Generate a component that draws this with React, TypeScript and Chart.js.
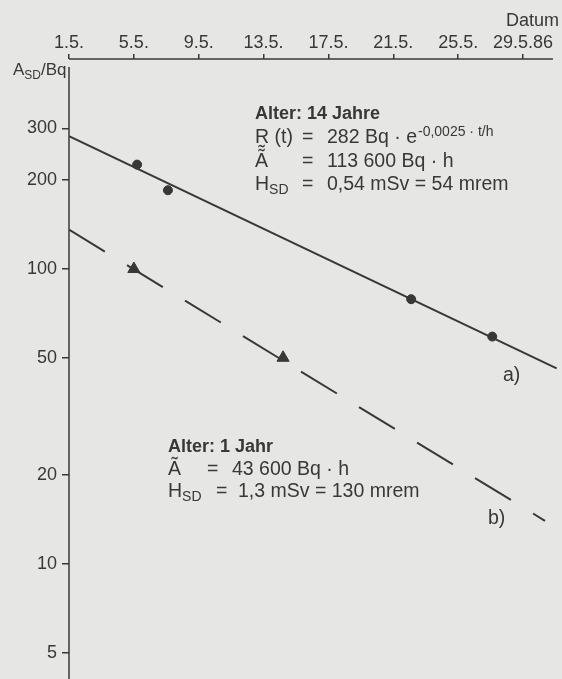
import React, { useEffect, useRef } from 'react';
import { Chart, registerables } from 'chart.js';

Chart.register(...registerables);

// ---- Data (days after 1.5.1986, activity A_SD in Bq) ----
const tickDays = [0, 4, 8, 12, 16, 20, 24, 28];
const tickLabels = ['1.5.', '5.5.', '9.5.', '13.5.', '17.5.', '21.5.', '25.5.', '29.5.86'];
const yTicks = [5, 10, 20, 50, 100, 200, 300];

// a) Alter: 14 Jahre
const fitADays = [0, 30.07];
const fitAValues = [282, 46];
const measADays = [4.2, 6.1, 21.1, 26.1];
const measAValues = [226, 185, 79, 59];

// b) Alter: 1 Jahr
const fitBDays = [0, 29.35];
const fitBValues = [136, 14];
const measBDays = [4.0, 13.2];
const measBValues = [100, 50];

const INK = '#383838';
const BG = '#e6e6e4';
const FONT = '"Liberation Sans", Arial, Helvetica, sans-serif';
const REG = 19.5;

const pts = (xs: number[], ys: number[]) => xs.map((x, i) => ({ x, y: ys[i] }));

function drawSub(ctx: CanvasRenderingContext2D, base: string, sub: string, x: number, y: number, size: number, subSize: number) {
  ctx.font = `${size}px ${FONT}`;
  ctx.fillText(base, x, y);
  const w = ctx.measureText(base).width;
  ctx.font = `${subSize}px ${FONT}`;
  ctx.fillText(sub, x + w, y + 4);
  return x + w + ctx.measureText(sub).width;
}

const decorPlugin = {
  id: 'decor',
  beforeDraw(chart: any) {
    const { ctx, width, height } = chart;
    ctx.save();
    ctx.fillStyle = BG;
    ctx.fillRect(0, 0, width, height);
    ctx.restore();
  },
  afterDraw(chart: any) {
    const { ctx, chartArea } = chart;
    const x = chart.scales.x;
    ctx.save();
    ctx.strokeStyle = INK;
    ctx.lineWidth = 1.5;
    // top date axis line
    ctx.beginPath();
    ctx.moveTo(chartArea.left, chartArea.top);
    ctx.lineTo(x.getPixelForValue(29.84), chartArea.top);
    ctx.stroke();
    // vertical activity axis
    ctx.beginPath();
    ctx.moveTo(chartArea.left, chartArea.top + 8);
    ctx.lineTo(chartArea.left, chartArea.bottom);
    ctx.stroke();

    ctx.fillStyle = INK;
    ctx.textBaseline = 'alphabetic';
    ctx.textAlign = 'left';

    // axis titles
    ctx.font = `18px ${FONT}`;
    ctx.textAlign = 'right';
    ctx.fillText('Datum', 559, 26);
    ctx.textAlign = 'left';
    const ex = drawSub(ctx, 'A', 'SD', 13, 75, 17, 12);
    ctx.font = `17px ${FONT}`;
    ctx.fillText('/Bq', ex, 75);

    // block: 14 Jahre
    ctx.font = `bold 18px ${FONT}`;
    ctx.fillText('Alter: 14 Jahre', 255, 119);
    ctx.font = `${REG}px ${FONT}`;
    ctx.fillText('R\u0330 (t)', 255, 143);
    ctx.fillText('=', 302, 143);
    const s1 = '282 Bq · e';
    ctx.fillText(s1, 327, 143);
    const w1 = ctx.measureText(s1).width;
    ctx.font = `14px ${FONT}`;
    ctx.fillText('-0,0025 · t/h', 327 + w1 + 1, 136);
    ctx.font = `${REG}px ${FONT}`;
    ctx.fillText('Ã', 255, 167);
    ctx.fillText('=', 302, 167);
    ctx.fillText('113 600 Bq · h', 327, 167);
    drawSub(ctx, 'H', 'SD', 255, 190, REG, 14);
    ctx.font = `${REG}px ${FONT}`;
    ctx.fillText('=', 302, 190);
    ctx.fillText('0,54 mSv = 54 mrem', 327, 190);

    // block: 1 Jahr
    ctx.font = `bold 18px ${FONT}`;
    ctx.fillText('Alter: 1 Jahr', 168, 452);
    ctx.font = `${REG}px ${FONT}`;
    ctx.fillText('Ã', 168, 475);
    ctx.fillText('=', 207, 475);
    ctx.fillText('43 600 Bq · h', 232, 475);
    drawSub(ctx, 'H', 'SD', 168, 497, REG, 14);
    ctx.font = `${REG}px ${FONT}`;
    ctx.fillText('=', 216, 497);
    ctx.fillText('1,3 mSv = 130 mrem', 238, 497);

    // curve labels
    ctx.fillText('a)', 503, 381);
    ctx.fillText('b)', 488, 524);
    ctx.restore();
  },
};

export default function App() {
  const ref = useRef<HTMLCanvasElement>(null);
  useEffect(() => {
    if (!ref.current) return;
    const chart = new Chart(ref.current, {
      type: 'line',
      data: {
        datasets: [
          {
            label: 'a) Anpassung',
            data: pts(fitADays, fitAValues),
            borderColor: INK,
            borderWidth: 2,
            pointRadius: 0,
            fill: false,
          },
          {
            label: 'a) Messwerte',
            data: pts(measADays, measAValues),
            showLine: false,
            pointStyle: 'circle',
            pointRadius: 4.5,
            backgroundColor: INK,
            borderColor: INK,
          },
          {
            label: 'b) Anpassung',
            data: pts(fitBDays, fitBValues),
            borderColor: INK,
            borderWidth: 2,
            borderDash: [42, 26],
            pointRadius: 0,
            fill: false,
          },
          {
            label: 'b) Messwerte',
            data: pts(measBDays, measBValues),
            showLine: false,
            pointStyle: 'triangle',
            pointRadius: 7,
            backgroundColor: INK,
            borderColor: INK,
          },
        ],
      },
      options: {
        animation: false,
        responsive: false,
        devicePixelRatio: 1,
        layout: { padding: 0, autoPadding: false },
        plugins: { legend: { display: false }, tooltip: { enabled: false }, title: { display: false } },
        scales: {
          x: {
            type: 'linear',
            position: 'top',
            min: 0,
            max: 30.4,
            bounds: 'data',
            afterBuildTicks: (s: any) => { s.ticks = tickDays.map((v) => ({ value: v })); },
            afterFit: (s: any) => {
              s.height = 59;
              s.paddingLeft = 0; s.paddingRight = 0; s.paddingTop = 0; s.paddingBottom = 0;
            },
            grid: { drawOnChartArea: false, drawTicks: true, tickLength: 5, color: INK, lineWidth: 1.5 },
            border: { display: false },
            ticks: {
              autoSkip: false,
              maxRotation: 0,
              padding: 0,
              color: INK,
              font: { family: FONT, size: 18 },
              callback: (v: any) => {
                const i = tickDays.indexOf(Number(v));
                return i >= 0 ? tickLabels[i] : '';
              },
            },
          },
          y: {
            type: 'logarithmic',
            min: 4.07,
            max: 515.5,
            bounds: 'data',
            afterBuildTicks: (s: any) => { s.ticks = yTicks.map((v) => ({ value: v })); },
            afterFit: (s: any) => {
              s.width = 69;
              s.paddingLeft = 0; s.paddingRight = 0; s.paddingTop = 0; s.paddingBottom = 0;
            },
            grid: { drawOnChartArea: false, drawTicks: true, tickLength: 7, color: INK, lineWidth: 1.5 },
            border: { display: false },
            ticks: {
              autoSkip: false,
              padding: 5,
              color: INK,
              font: { family: FONT, size: 18 },
              callback: (v: any) => String(v),
            },
          },
        },
      },
      plugins: [decorPlugin],
    });
    return () => chart.destroy();
  }, []);
  return (
    <div style={{ position: 'fixed', left: 0, top: 0, width: 562, height: 679, background: BG }}>
      <canvas ref={ref} width={562} height={679} style={{ width: 562, height: 679, display: 'block' }} />
    </div>
  );
}
